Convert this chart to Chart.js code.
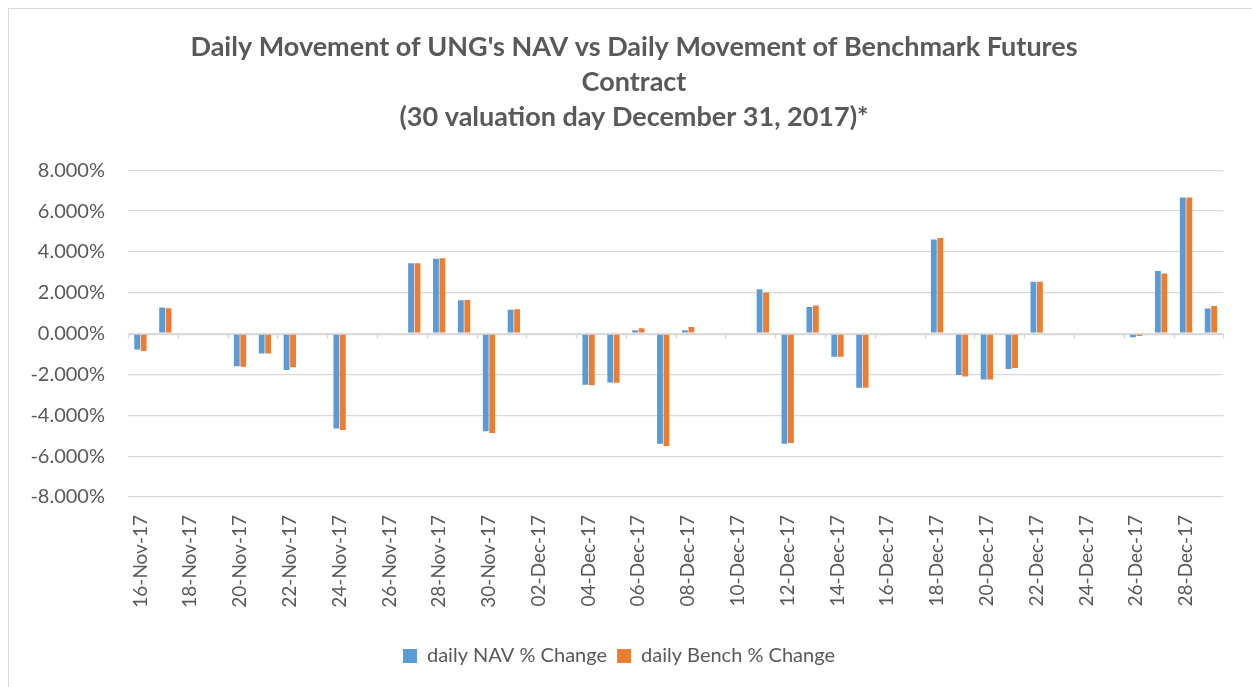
<!DOCTYPE html>
<html>
<head>
<meta charset="utf-8">
<script src="https://cdn.jsdelivr.net/npm/chart.js@4/dist/chart.umd.min.js"></script>
<style>
  html, body { margin: 0; padding: 0; background: #ffffff; overflow: hidden; }
  #frame { position: absolute; left: 8px; top: 8px; width: 1300px; height: 700px; border: 1.5px solid #d9d9d9; box-sizing: border-box; }
  #c { position: absolute; left: 0; top: 0; }
</style>
</head>
<body>
<div id="frame"></div>
<canvas id="c" width="1252" height="687"></canvas>
<script>
const titleLines = [
  "Daily Movement of UNG's NAV vs Daily Movement of Benchmark Futures",
  "Contract",
  "(30 valuation day December 31, 2017)*"
];
const categories = [
  "16-Nov-17","17-Nov-17","18-Nov-17","19-Nov-17","20-Nov-17","21-Nov-17","22-Nov-17","23-Nov-17",
  "24-Nov-17","25-Nov-17","26-Nov-17","27-Nov-17","28-Nov-17","29-Nov-17","30-Nov-17","01-Dec-17",
  "02-Dec-17","03-Dec-17","04-Dec-17","05-Dec-17","06-Dec-17","07-Dec-17","08-Dec-17","09-Dec-17",
  "10-Dec-17","11-Dec-17","12-Dec-17","13-Dec-17","14-Dec-17","15-Dec-17","16-Dec-17","17-Dec-17",
  "18-Dec-17","19-Dec-17","20-Dec-17","21-Dec-17","22-Dec-17","23-Dec-17","24-Dec-17","25-Dec-17",
  "26-Dec-17","27-Dec-17","28-Dec-17","29-Dec-17"
];
const seriesNames = ["daily NAV % Change", "daily Bench % Change"];
const navChange = [
  -0.78, 1.28, null, null, -1.60, -0.97, -1.78, null,
  -4.65, null, null, 3.45, 3.67, 1.63, -4.78, 1.17,
  null, null, -2.50, -2.39, 0.17, -5.39, 0.17, null,
  null, 2.18, -5.39, 1.31, -1.13, -2.65, null, null,
  4.61, -2.02, -2.25, -1.73, 2.54, null, null, null,
  -0.18, 3.07, 6.67, 1.23
];
const benchChange = [
  -0.85, 1.25, null, null, -1.62, -0.97, -1.65, null,
  -4.72, null, null, 3.45, 3.69, 1.65, -4.87, 1.20,
  null, null, -2.53, -2.40, 0.27, -5.50, 0.32, null,
  null, 2.02, -5.36, 1.38, -1.13, -2.65, null, null,
  4.69, -2.10, -2.25, -1.68, 2.54, null, null, null,
  -0.12, 2.95, 6.67, 1.36
];
const yMin = -8, yMax = 8, yStep = 2;

const FONT = "Lato, 'Open Sans', sans-serif";
const TEXT = "#595959";
const GRID = "#d9d9d9";

const zeroTicks = {
  id: 'zeroTicks',
  afterLayout(chart) {
    if (chart.titleBlock) {
      chart.titleBlock.left += 15;
      chart.titleBlock.right += 15;
    }
  },
  afterDatasetsDraw(chart) {
    const {ctx, chartArea, scales} = chart;
    const y0 = scales.y.getPixelForValue(0);
    const n = categories.length / 2;
    const w = (chartArea.right - chartArea.left) / n;
    ctx.save();
    ctx.strokeStyle = GRID;
    ctx.lineWidth = 1.5;
    for (let k = 0; k <= n; k++) {
      const x = Math.round(chartArea.left + k * w) + 0.5;
      ctx.beginPath();
      ctx.moveTo(x, y0);
      ctx.lineTo(x, y0 + 5);
      ctx.stroke();
    }
    ctx.restore();
  }
};

new Chart(document.getElementById('c'), {
  type: 'bar',
  data: {
    labels: categories,
    datasets: [
      { label: seriesNames[0], data: navChange, backgroundColor: '#5B9BD5',
        categoryPercentage: 0.52, barPercentage: 0.9, borderWidth: 0 },
      { label: seriesNames[1], data: benchChange, backgroundColor: '#ED7D31',
        categoryPercentage: 0.52, barPercentage: 0.9, borderWidth: 0 }
    ]
  },
  options: {
    responsive: false,
    animation: false,
    devicePixelRatio: 1,
    layout: { padding: { left: 10, right: 24, top: 30, bottom: 11 } },
    plugins: {
      title: {
        display: true,
        text: titleLines,
        color: TEXT,
        font: { family: FONT, size: 27, weight: 'bold', lineHeight: 1.3 },
        padding: { top: 0, bottom: 35 }
      },
      legend: {
        position: 'bottom',
        labels: {
          color: TEXT,
          font: { family: FONT, size: 20 },
          boxWidth: 14, boxHeight: 14,
          padding: 10
        }
      },
      tooltip: { enabled: false }
    },
    scales: {
      x: {
        afterFit(scale) { scale.height = 139; },
        grid: { display: false, drawTicks: false },
        border: { display: false },
        ticks: {
          autoSkip: false,
          maxRotation: 90, minRotation: 90,
          padding: 18,
          color: TEXT,
          font: { family: FONT, size: 19 },
          callback: function(v, i) { return i % 2 === 0 ? this.getLabelForValue(v) : ''; }
        }
      },
      y: {
        min: yMin, max: yMax,
        afterFit(scale) { scale.width = 118; },
        grid: {
          color: GRID,
          lineWidth: c => (c.tick && c.tick.value === 0 ? 2.2 : 1.3),
          drawTicks: false
        },
        border: { display: false },
        ticks: {
          stepSize: yStep,
          padding: 23,
          color: TEXT,
          font: { family: FONT, size: 20 },
          callback: v => v.toFixed(3) + '%'
        }
      }
    }
  },
  plugins: [zeroTicks]
});
</script>
</body>
</html>
